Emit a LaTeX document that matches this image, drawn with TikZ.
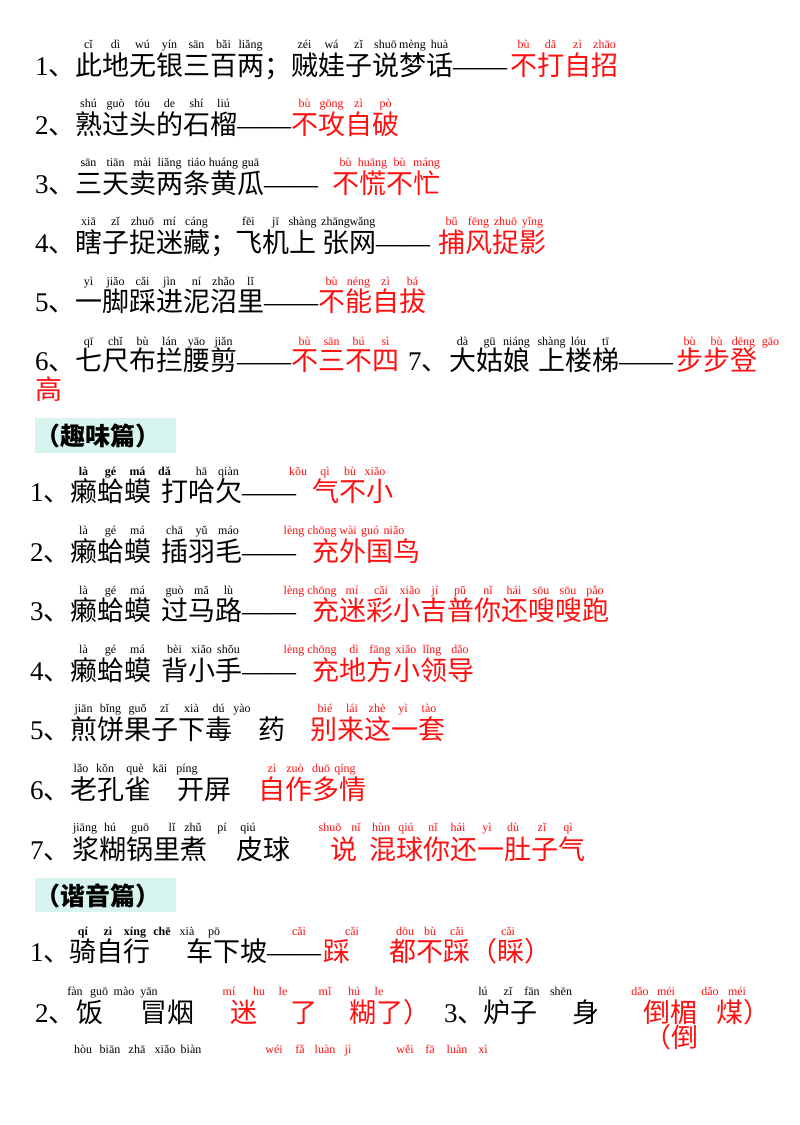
\documentclass[tikz,border=0pt]{standalone}
\usepackage{fontspec}
\newfontfamily\cjk{Noto Sans CJK SC}
\newfontfamily\serif{Liberation Serif}
\definecolor{hdr}{HTML}{D8F4EE}
\definecolor{rd}{HTML}{FF1010}
\newcommand\nm[1]{{\serif #1}、}
\newcommand\dd{{\serif ——}}
\newcommand\pyat[3]{\foreach \xx/\ss in {#3} \node[py,#2] at (\xx,#1) {\ss};}
\newcommand\pyrow[4]{\foreach \ss [count=\ii] in {#4} \node[py,#3] at ({#1+(\ii-0.5)*27},#2) {\ss};}
\tikzset{
 cn/.style={font=\cjk\fontsize{27}{27}\selectfont, inner sep=0, anchor=west, text height=23.8pt, text depth=3.2pt},
 cr/.style={cn, text=rd},
 py/.style={font=\serif\fontsize{12}{12}\selectfont, inner sep=0, text height=8.5pt, text depth=2.5pt},
 pr/.style={text=rd},
 pb/.style={font=\serif\bfseries\fontsize{12}{12}\selectfont},
 hd/.style={cn, font=\cjk\bfseries\fontsize{25}{25}\selectfont}
}
\begin{document}
\begin{tikzpicture}[x=1pt,y=-1pt]
\useasboundingbox[fill=white] (0,0) rectangle (800,1125);
% ---- section 1
\node[cn] (n1) at (35,65) {\nm{1}};
\node[cn] (a1) at (75,65) {此地无银三百两；贼娃子说梦话\dd};
\node[cr] (b1) at (510,65) {不打自招};
\pyrow{75}{45}{}{cǐ,dì,wú,yín,sān,bǎi,liǎng}
\pyrow{291}{45}{}{zéi,wá,zǐ,shuō,mèng,huà}
\pyrow{510}{45}{pr}{bù,dǎ,zì,zhāo}
\node[cn] (n2) at (35,124) {\nm{2}};
\node[cn] (a2) at (75,124) {熟过头的石榴\dd};
\node[cr] (b2) at (291,124) {不攻自破};
\pyrow{75}{104}{}{shú,guò,tóu,de,shí,liú}
\pyrow{291}{104}{pr}{bù,gōng,zì,pò}
\node[cn] (n3) at (35,183) {\nm{3}};
\node[cn] (a3) at (75,183) {三天卖两条黄瓜\dd};
\node[cr] (b3) at (332,183) {不慌不忙};
\pyrow{75}{163}{}{sān,tiān,mài,liǎng,tiáo,huáng,guā}
\pyrow{332}{163}{pr}{bù,huāng,bù,máng}
\node[cn] (n4) at (35,242) {\nm{4}};
\node[cn] (a4) at (75,242) {瞎子捉迷藏；};
\node[cn] (a4b) at (235,242) {飞机上};
\node[cn] (a4c) at (322,242) {张网\dd};
\node[cr] (b4) at (438,242) {捕风捉影};
\pyrow{75}{222}{}{xiā,zǐ,zhuō,mí,cáng}
\pyrow{235}{222}{}{fēi,jī,shàng}
\pyrow{322}{222}{}{zhāng,wǎng}
\pyrow{438}{222}{pr}{bǔ,fēng,zhuō,yǐng}
\node[cn] (n5) at (35,301) {\nm{5}};
\node[cn] (a5) at (75,301) {一脚踩进泥沼里\dd};
\node[cr] (b5) at (318,301) {不能自拔};
\pyrow{75}{282}{}{yì,jiǎo,cǎi,jìn,ní,zhǎo,lǐ}
\pyrow{318}{282}{pr}{bù,néng,zì,bá}
\node[cn] (n6) at (35,360) {\nm{6}};
\node[cn] (a6) at (75,360) {七尺布拦腰剪\dd};
\node[cr] (b6) at (291,360) {不三不四};
\node[cn] (n7) at (408,360) {\nm{7}};
\node[cn] (a7) at (449,360) {大姑娘};
\node[cn] (a7b) at (538,360) {上楼梯\dd};
\node[cr] (b7) at (676,360) {步步登};
\node[cr] (b7b) at (35,389) {高};
\pyrow{75}{342}{}{qī,chǐ,bù,lán,yāo,jiǎn}
\pyrow{291}{342}{pr}{bù,sān,bú,sì}
\pyrow{449}{342}{}{dà,gū,niáng}
\pyrow{538}{342}{}{shàng,lóu,tī}
\pyrow{676}{342}{pr}{bù,bù,dēng,gāo}
% ---- header 1
\fill[hdr] (35,418) rectangle (176,453);
\node[hd] (h1) at (35,435) {（趣味篇）};
% ---- section 2
\node[cn] (m1) at (30,491) {\nm{1}};
\node[cn] (c1) at (70,491) {癞蛤蟆};
\node[cn] (c1b) at (161,491) {打哈欠\dd};
\node[cr] (d1) at (312,491) {气不小};
\pyrow{70}{472}{pb}{là,gé,má,dǎ}
\pyrow{188}{472}{}{hā,qiàn}
\pyat{472}{pr}{298/kǒu,325/qì,350/bù,375/xiǎo}
\node[cn] (m2) at (30,551) {\nm{2}};
\node[cn] (c2) at (70,551) {癞蛤蟆};
\node[cn] (c2b) at (161,551) {插羽毛\dd};
\node[cr] (d2) at (312,551) {充外国鸟};
\pyrow{70}{531}{}{là,gé,má}
\pyrow{161}{531}{}{chā,yǔ,máo}
\pyat{531}{pr}{294/lèng,322/chōng,348/wài,370/guó,394/niǎo}
\node[cn] (m3) at (30,610) {\nm{3}};
\node[cn] (c3) at (70,610) {癞蛤蟆};
\node[cn] (c3b) at (161,610) {过马路\dd};
\node[cr] (d3) at (312,610) {充迷彩小吉普你还嗖嗖跑};
\pyrow{70}{591}{}{là,gé,má}
\pyrow{161}{591}{}{guò,mǎ,lù}
\pyat{591}{pr}{294/lèng,322/chōng,352/mí,381/cǎi,410/xiǎo,435/jí,460/pǔ,488/nǐ,514/hái,541/sōu,568/sōu,595/pǎo}
\node[cn] (m4) at (30,670) {\nm{4}};
\node[cn] (c4) at (70,670) {癞蛤蟆};
\node[cn] (c4b) at (161,670) {背小手\dd};
\node[cr] (d4) at (312,670) {充地方小领导};
\pyrow{70}{650}{}{là,gé,má}
\pyrow{161}{650}{}{bèi,xiǎo,shǒu}
\pyat{650}{pr}{294/lèng,322/chōng,354/dì,380/fāng,406/xiǎo,432/lǐng,460/dǎo}
\node[cn] (m5) at (30,729) {\nm{5}};
\node[cn] (c5) at (70,729) {煎饼果子下毒};
\node[cn] (c5b) at (258,729) {药};
\node[cr] (d5) at (310,729) {别来这一套};
\pyrow{70}{709}{}{jiān,bǐng,guǒ,zǐ,xià,dú}
\pyat{709}{}{242/yào}
\pyat{709}{pr}{325/bié,352/lái,377/zhè,403/yì,429/tào}
\node[cn] (m6) at (30,789) {\nm{6}};
\node[cn] (c6) at (70,789) {老孔雀};
\node[cn] (c6b) at (177,789) {开屏};
\node[cr] (d6) at (258,789) {自作多情};
\pyat{769}{}{81/lǎo,105/kǒn,135/què,160/kāi,187/píng}
\pyat{769}{pr}{272/zì,295/zuò,321/duō,345/qíng}
\node[cn] (m7) at (30,849) {\nm{7}};
\node[cn] (c7) at (72,849) {浆糊锅里煮};
\node[cn] (c7b) at (236,849) {皮球};
\node[cr] (d7) at (330,849) {说};
\node[cr] (d7b) at (369,849) {混球你还一肚子气};
\pyat{828}{}{85/jiāng,110/hú,140/guō,172/lǐ,193/zhǔ,222/pí,248/qiú}
\pyat{828}{pr}{330/shuō,356/nǐ,381/hùn,406/qiú,433/nǐ,458/hái,487/yì,513/dù,542/zǐ,568/qì}
% ---- header 2
\fill[hdr] (35,878) rectangle (176,912);
\node[hd] (h2) at (35,895) {（谐音篇）};
% ---- section 3
\node[cn] (k1) at (30,951) {\nm{1}};
\node[cn] (e1) at (69,951) {骑自行};
\node[cn] (e1b) at (186,951) {车下坡\dd};
\node[cr] (f1) at (323,951) {踩};
\node[cr] (f1b) at (389,951) {都不踩（睬）};
\pyat{932}{pb}{83/qí,108/zì,135/xíng,162/chē}
\pyat{932}{}{187/xià,214/pō}
\pyat{932}{pr}{299/cǎi,352/cǎi,405/dōu,430/bù,457/cǎi,508/cǎi}
\node[cn] (k2) at (35,1012) {\nm{2}};
\node[cn] (e2) at (76,1012) {饭};
\node[cn] (e2b) at (140,1012) {冒烟};
\node[cr] (f2) at (230,1012) {迷};
\node[cr] (f2b) at (290,1012) {了};
\node[cr] (f2c) at (349,1012) {糊了）};
\node[cn] (k3) at (444,1012) {\nm{3}};
\node[cn] (e3) at (483,1012) {炉子};
\node[cn] (e3b) at (572,1012) {身};
\node[cr] (f3) at (643,1012) {倒楣};
\node[cr] (f3b) at (716,1012) {煤）};
\node[cr] (f3c) at (644,1037) {（倒};
\pyat{992}{}{75/fàn,99/guō,124/mào,149/yān}
\pyat{992}{pr}{229/mí,259/hu,283/le,325/mǐ,354/hú,379/le}
\pyat{992}{}{483/lú,508/zǐ,532/fān,561/shēn}
\pyat{992}{pr}{640/dǎo,666/méi,710/dǎo,737/méi}
\pyat{1050}{}{83/hòu,110/biān,137/zhā,165/xiǎo,191/biàn}
\pyat{1050}{pr}{274/wéi,300/fǎ,325/luàn,348/jì,405/wěi,430/fā,457/luàn,483/xì}
\end{tikzpicture}
\end{document}
